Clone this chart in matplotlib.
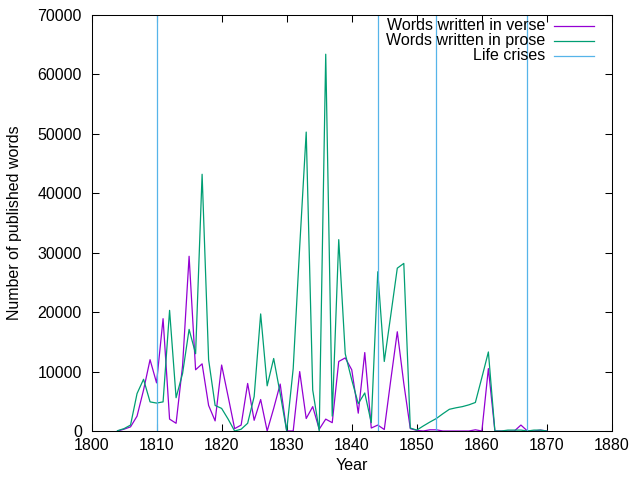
import matplotlib
matplotlib.use("Agg")
import matplotlib.pyplot as plt
from matplotlib.ticker import MultipleLocator

plt.rcParams['font.family'] = ['Liberation Sans', 'DejaVu Sans']

years = list(range(1804, 1871))
verse = [0, 300, 700, 2500, 6900, 12000, 8100, 18900, 2000, 1300,
         11000, 29400, 10300, 11300, 4300, 1700, 11100, 5800, 400, 1000,
         8000, 1800, 5300, 0, 3800, 7900, 0, 0, 10000, 2100,
         4100, 300, 2000, 1400, 11700, 12300, 10300, 3000, 13200, 500,
         1000, 250, 8600, 16700, 8000, 400, 100, 0, 200, 200,
         0, 0, 0, 0, 0, 200, 0, 10500, 0, 0,
         0, 0, 1000, 0, 0, 150, 0]
prose = [50, 400, 1000, 6300, 8700, 4900, 4700, 4900, 20300, 5600,
         9700, 17100, 13000, 43200, 12000, 4300, 3800, 2000, 0, 300,
         1300, 5800, 19700, 7600, 12200, 6300, 0, 10500, 31000, 50300,
         6900, 0, 63400, 2500, 32200, 13000, 8600, 4600, 6400, 1400,
         26800, 11700, 19500, 27400, 28200, 500, 150, 850, 1500, 2100,
         2900, 3650, 3900, 4100, 4400, 4800, 9000, 13300, 0, 0,
         150, 150, 150, 0, 150, 150, 0]
crises = [1810, 1844, 1853, 1867]

labels = ["Words written in verse", "Words written in prose", "Life crises"]
c_verse = "#9400d3"
c_prose = "#009e73"
c_crisis = "#56b4e9"

fig = plt.figure(figsize=(6.4, 4.8), dpi=100)
ax = fig.add_axes([91.5/640, 49/480, 520.5/640, 416/480])

lw = 0.9
ax.plot(years, verse, color=c_verse, lw=lw)
ax.plot(years, prose, color=c_prose, lw=lw)
for yr in crises:
    ax.axvline(yr, color=c_crisis, lw=lw)

ax.set_xlim(1800, 1880)
ax.set_ylim(0, 70000)
ax.xaxis.set_major_locator(MultipleLocator(10))
ax.yaxis.set_major_locator(MultipleLocator(10000))
ax.tick_params(direction='in', length=5, width=0.75, top=True, right=True,
               labelsize=11.5)
ax.tick_params(axis='x', pad=5)
ax.tick_params(axis='y', pad=7)
for s in ax.spines.values():
    s.set_linewidth(0.75)
    s.set_zorder(5)

ax.set_xlabel("Year", fontsize=11.5, labelpad=4)
ax.set_ylabel("Number of published words", fontsize=11.5, labelpad=11)

# legend (gnuplot style: right-justified text, sample to the right)
rows_y = [0.9743, 0.9375, 0.9022]
for lab, col, yy in zip(labels, [c_verse, c_prose, c_crisis], rows_y):
    ax.text(0.8713, yy, lab, ha='right', va='center', fontsize=11.5,
            transform=ax.transAxes)
    ax.plot([0.8886, 0.9654], [yy, yy], color=col, lw=lw,
            transform=ax.transAxes, clip_on=False)

fig.savefig("out.png", dpi=100)
